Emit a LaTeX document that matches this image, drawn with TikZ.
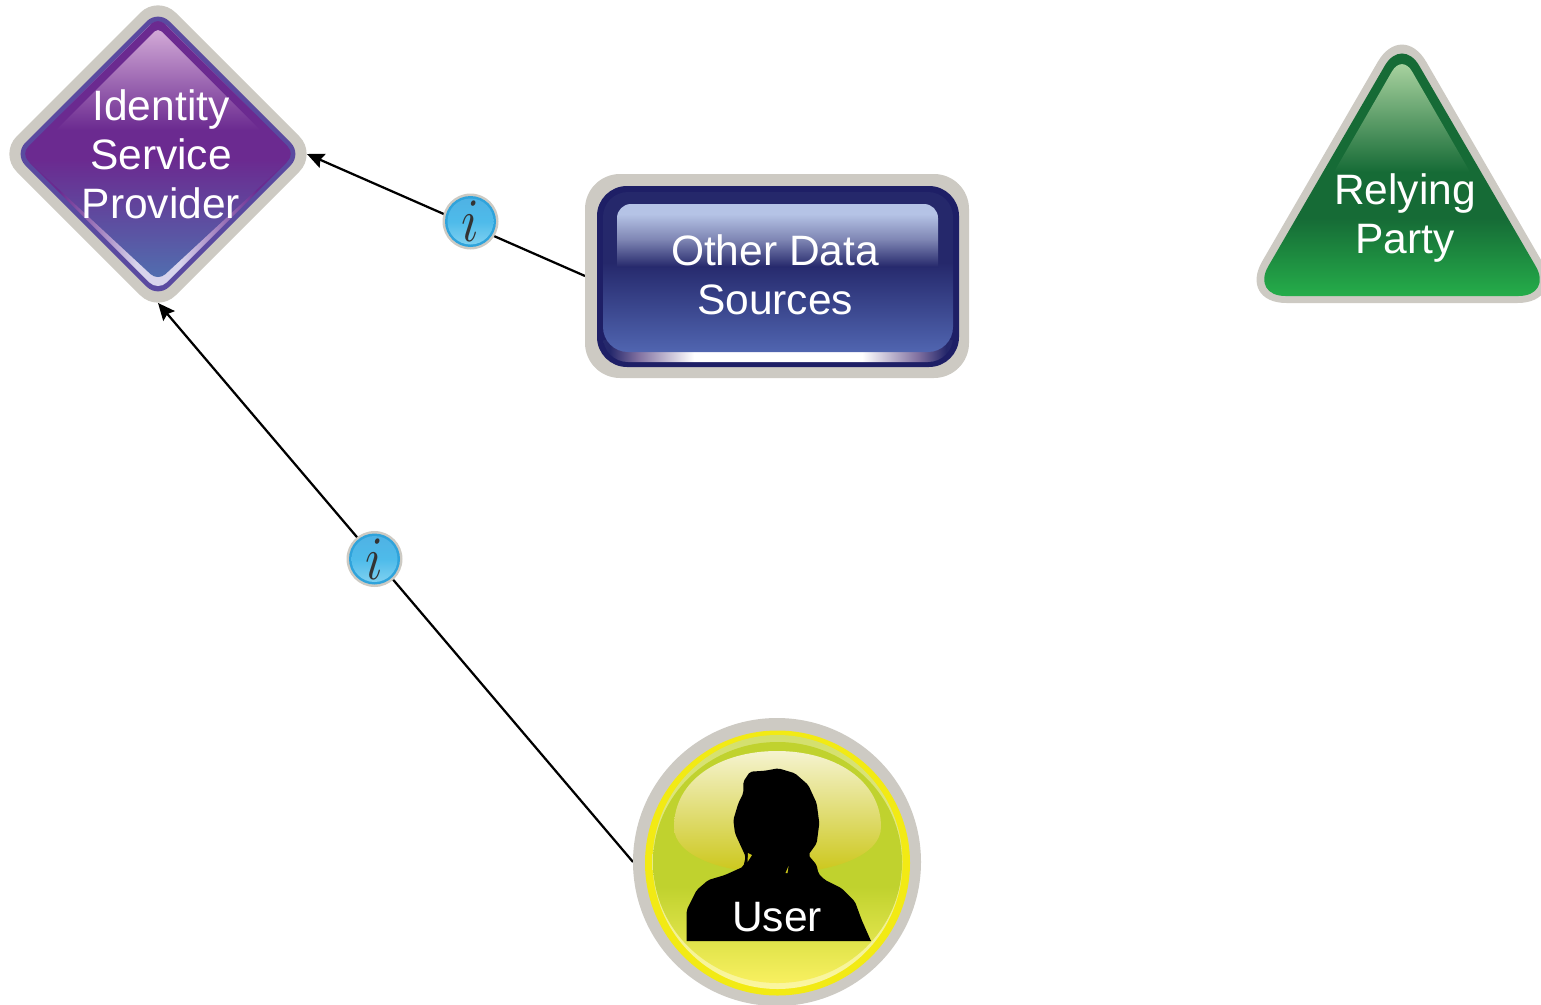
\documentclass[tikz,border=0pt]{standalone}
\usepackage{fontspec}
\setmainfont{Liberation Sans}
\usetikzlibrary{shapes.geometric,arrows.meta}
\definecolor{ccdcac3}{RGB}{205,202,195}
\definecolor{c5a4aa0}{RGB}{90,74,160}
\definecolor{c6b2a90}{RGB}{107,42,144}
\definecolor{c5070b0}{RGB}{80,112,176}
\definecolor{cd4acd8}{RGB}{212,172,216}
\definecolor{cc8c4e4}{RGB}{216,212,236}
\definecolor{c1e1f66}{RGB}{30,31,102}
\definecolor{c25286b}{RGB}{37,40,107}
\definecolor{c5065b0}{RGB}{80,101,176}
\definecolor{cb5c3e6}{RGB}{181,195,230}
\definecolor{c7f86b4}{RGB}{127,134,180}
\definecolor{c8070a0}{RGB}{128,112,160}
\definecolor{c166b36}{RGB}{22,107,54}
\definecolor{c25ad4a}{RGB}{37,173,74}
\definecolor{cb5dba8}{RGB}{181,219,168}
\definecolor{cf2ea14}{RGB}{242,234,20}
\definecolor{cc0d22e}{RGB}{192,210,46}
\definecolor{cf8f060}{RGB}{248,240,96}
\definecolor{cf5f3cf}{RGB}{245,243,207}
\definecolor{cccc71a}{RGB}{204,199,26}
\definecolor{c2fa3db}{RGB}{47,163,219}
\definecolor{c4fb2e4}{RGB}{79,178,228}
\definecolor{c4ebbea}{RGB}{78,187,234}
\definecolor{c7ed0f0}{RGB}{126,208,240}
\definecolor{c333333}{RGB}{51,51,51}
\pgfdeclareverticalshading{ispbody}{100bp}{color(0bp)=(c5070b0); color(25bp)=(c5070b0); color(48bp)=(c6b2a90); color(100bp)=(c6b2a90)}
\pgfdeclareverticalshading{sourcesbody}{100bp}{color(0bp)=(c5065b0); color(25bp)=(c5065b0); color(53bp)=(c25286b); color(100bp)=(c25286b)}
\pgfdeclareverticalshading{sourcesglow}{100bp}{color(0bp)=(c25286b); color(25bp)=(c25286b); color(47bp)=(c7f86b4); color(67bp)=(cb5c3e6); color(100bp)=(cb5c3e6)}
\pgfdeclareverticalshading{partybody}{100bp}{color(0bp)=(c25ad4a); color(25bp)=(c25ad4a); color(40bp)=(c166b36); color(100bp)=(c166b36)}
\pgfdeclareverticalshading{userbody}{100bp}{color(0bp)=(cf8f060); color(25bp)=(cf8f060); color(45bp)=(cc0d22e); color(100bp)=(cc0d22e)}
\pgfdeclareverticalshading{infobody}{100bp}{color(0bp)=(c7ed0f0); color(25bp)=(c7ed0f0); color(50bp)=(c4ebbea); color(75bp)=(c4fb2e4); color(100bp)=(c4fb2e4)}
\pgfdeclarehorizontalshading{sourcesband}{100bp}{color(0bp)=(c25286b); color(26bp)=(c25286b); color(30bp)=(c8070a0); color(38bp)=(white); color(62bp)=(white); color(70bp)=(c8070a0); color(74bp)=(c25286b); color(100bp)=(c25286b)}
\pgfdeclarehorizontalshading{ispband}{100bp}{color(0bp)=(c6b2a90); color(32bp)=(c6b2a90); color(46bp)=(cc8c4e4); color(54bp)=(cc8c4e4); color(68bp)=(c6b2a90); color(100bp)=(c6b2a90)}
\tikzset{
  port/.style={inner sep=0pt,outer sep=0pt},
  caption/.style={text=white,align=center,inner sep=0pt,font=\fontsize{24.2}{27.8}\selectfont},
  flow/.style={draw=black,line width=0.045cm,-{Stealth[length=0.34cm,width=0.3cm,inset=0.05cm]}}
}

\begin{document}
\begin{tikzpicture}[y=-0.02cm, x=0.02cm]
  \path[use as bounding box,clip] (0,0) rectangle (1541,1004);

  \node[port,diamond,minimum width=5.96cm,minimum height=5.96cm] (isp) at (158,154){};
  \node[port,rectangle,minimum width=7.68cm,minimum height=4.08cm] (sources) at (777,276){};
  \node[port,circle,minimum size=5.76cm] (user) at (777,862){};

  \path[flow] (sources.west) -- (isp.east);
  \path[flow] (user.west) -- (isp.south);

  % identity service provider
  \path[fill=ccdcac3,rounded corners=0.5cm] (158,-5) -- (317,154) -- (158,313) -- (-1,154) -- cycle;
  \path[fill=c5a4aa0,rounded corners=0.32cm] (158,10) -- (302,154) -- (158,298) -- (14,154) -- cycle;
  \path[shading=ispband,rounded corners=0.24cm] (158,17) -- (295,154) -- (158,291) -- (21,154) -- cycle;
  \path[shading=ispbody,rounded corners=0.2cm] (158,17) -- (295,154) -- (158,281) -- (21,154) -- cycle;
  \path[top color=cd4acd8,bottom color=c6b2a90] (56,130) [rounded corners=0.1cm] -- (158,28) [sharp corners] -- (260,130) -- cycle;

  % other data sources
  \path[fill=ccdcac3,rounded corners=0.7cm] (585,174) rectangle (969,378);
  \path[fill=c1e1f66,rounded corners=0.6cm] (597,186) rectangle (959,367);
  \begin{scope}
    \clip[rounded corners=0.5cm] (603,192) rectangle (953,362);
    \path[shading=sourcesband] (603,340) rectangle (953,362);
  \end{scope}
  \path[shading=sourcesbody,rounded corners=0.5cm] (603,192) rectangle (953,352);
  \path[shading=sourcesglow] (617,267) [rounded corners=0.28cm] -- (617,204) -- (938,204) [sharp corners] -- (938,267) -- cycle;

  % relying party
  \path[fill=ccdcac3,rounded corners=0.97cm] (1402,20) -- (1566,303) -- (1238,303) -- cycle;
  \path[shading=partybody,rounded corners=0.69cm] (1402,36) -- (1553,296) -- (1251,296) -- cycle;
  \path[top color=cb5dba8,bottom color=c166b36] (1334,172) [rounded corners=0.4cm] -- (1402,54) [sharp corners] -- (1470,172) -- cycle;

  % user
  \path[fill=ccdcac3] (777,862) circle (144);
  \path[fill=cf2ea14] (777.5,863) circle (132.5);
  \path[top color=cc0d22e!70!white,bottom color=cf8f060!60!white] (777.5,862) ellipse (125 and 127);
  \path[shading=userbody] (777.5,862.5) ellipse (124.5 and 120.5);
  \path[top color=cf5f3cf,bottom color=cccc71a] (674,827) .. controls (674,780) and (720,751) .. (777,751) .. controls (834,751) and (881,780) .. (881,827) .. controls (881,855) and (834,873) .. (777,873) .. controls (720,873) and (674,855) .. (674,827) -- cycle;
  \path[fill=black,rounded corners=0.04cm] (686.7,941) -- (686.7,910) -- (696.7,890) -- (708.3,880) -- (725,875) -- (743.3,866.7) -- (745.7,856.7) -- (735,833.3) -- (733.3,820) -- (738.3,803.3) -- (743.3,793.3) -- (743.3,781.7) -- (750,771.7) -- (765,770.7) -- (778.3,768.3) -- (795,773.3) -- (808.3,785) -- (816.7,803.3) -- (819.3,823.3) -- (816.7,843.3) -- (808.3,855) -- (816.7,865) -- (818.3,873.3) -- (825,880) -- (841.7,888.3) -- (855,901.7) -- (861.7,920) [sharp corners] -- (871,941) -- cycle;
  \path[fill=cccc71a] (785.5,873) -- (788.5,866) -- (787.5,873) -- cycle;
  \path[fill=cccc71a] (747.5,862) -- (752,855) -- (748,853) -- cycle;

  % info marks
  \foreach \pos/\markid in {{470.5,221.5}/infoA,{374.5,559}/infoB}{
    \path[fill=ccdcac3] (\pos) circle (28);
    \path[fill=c2fa3db] (\pos) circle (25.5);
    \path[shading=infobody] (\pos) circle (23);
    \node[port,text=c333333,xscale=2.9,yscale=3.5] (\markid) at (\pos){$i$};
  }

  \node[caption] (isplabel) at (161,154){Identity\\Service\\Provider};
  \node[caption] (sourceslabel) at (775,275){Other Data\\Sources};
  \node[caption] (partylabel) at (1405,218){Relying\\Party};
  \node[caption] (userlabel) at (777,917){User};
\end{tikzpicture}
\end{document}
